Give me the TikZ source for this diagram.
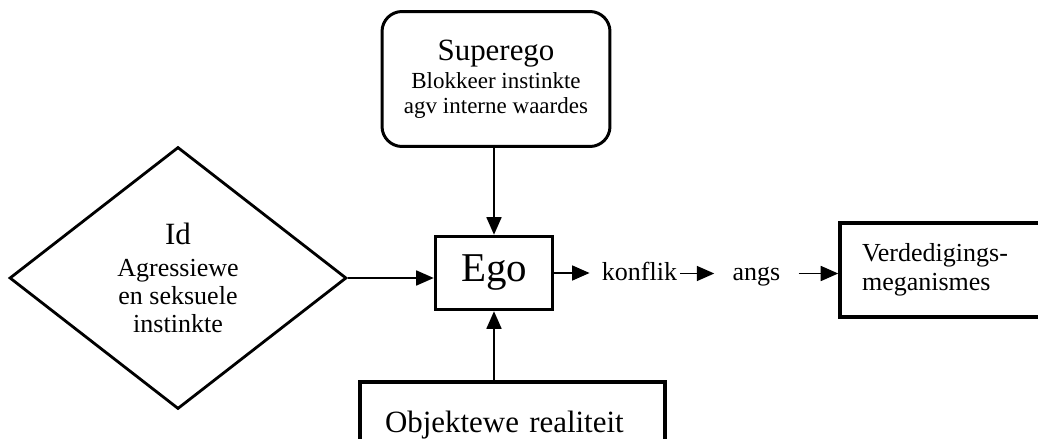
\documentclass[tikz,border=0pt]{standalone}
\usepackage{fontspec}
\setmainfont{Liberation Serif}
\usepackage{tikz}
\usetikzlibrary{arrows.meta, shapes, shapes.geometric, calc, positioning}
\usepackage{xcolor}

\tikzset{
  boxed/.style={draw=black, line width=2pt, inner sep=0pt},
  flow/.style={-{Triangle[length=10pt,width=8.5pt]}, line width=1.1pt},
  plain/.style={inner sep=0pt, font=\fontsize{14.8}{16}\selectfont, text height=0.36cm, text depth=0.1cm},
}

\begin{document}
\begin{tikzpicture}[x=0.02cm, y=-0.02cm]
  \useasboundingbox (0,0) rectangle (1038,439);
  \fill[white] (0,0) rectangle (1038,439);
  \clip (0,0) rectangle (1038,439);

  % superego
  \node[boxed, line width=1.7pt, rounded corners=0.4cm, minimum width=4.56cm, minimum height=2.7cm,
        align=center, font=\fontsize{13.1}{14.2}\selectfont] (superego) at (496,79)
    {{\fontsize{17.6}{20}\selectfont Superego}\\[1.8pt] Blokkeer instinkte\\ agv interne waardes};
  % ego
  \node[boxed, minimum width=2.34cm, minimum height=1.46cm, font=\fontsize{23.3}{28}\selectfont] (ego) at (494,273) {Ego};
  % id
  \node[boxed, line width=1.6pt, diamond, aspect=1.29, minimum width=6.74cm, minimum height=5.24cm,
        align=center, font=\fontsize{14.8}{16}\selectfont] (id) at (178,278)
    {{\fontsize{17.6}{20}\selectfont Id}\\[2.2pt] Agressiewe\\ en seksuele\\ instinkte};
  % realiteit
  \node[boxed, minimum height=1.72cm, inner xsep=0.5cm, text width=5.1cm, align=left,
        font=\fontsize{17.6}{20}\selectfont] (objektief) at (512.5,425) {Objektewe realiteit};
  % verdediging
  \node[boxed, minimum height=1.88cm, inner xsep=0.44cm, text width=4.5cm, align=left,
        font=\fontsize{14.8}{16.5}\selectfont] (verdediging) at (974.5,270) {Verdedigings-\\ meganismes};
  % chain
  \node[plain] (konflik) at (639.5,273.5) {konflik};
  \node[plain] (angs) at (756.5,273.5) {angs};

  % arrows
  \draw[flow] (superego.south -| ego.north) -- (ego.north);
  \draw[flow] (objektief.north -| ego.south) -- (ego.south);
  \draw[flow] (id.east) -- (id.east -| ego.west);
  \draw[flow, shorten >=0.24cm] (ego.east) -- (ego.east -| konflik.west);
  \draw[flow, shorten <=0.06cm, shorten >=0.36cm] (konflik.east) -- (angs.west);
  \draw[flow, shorten <=0.36cm] (angs.east) -- (angs.east -| verdediging.west);
\end{tikzpicture}
\end{document}
